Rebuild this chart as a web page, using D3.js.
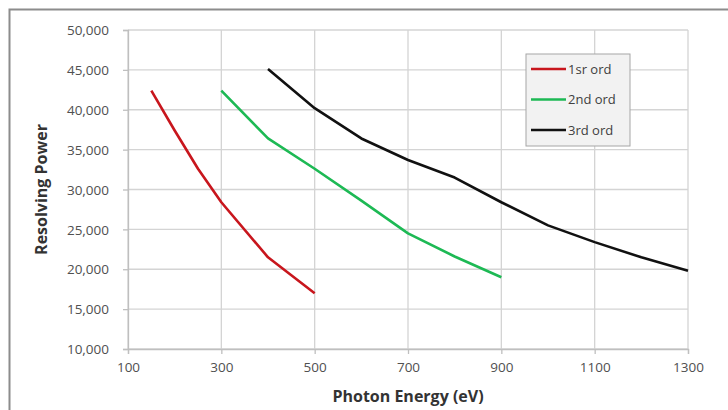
<!DOCTYPE html>
<html>
<head>
<meta charset="utf-8">
<script src="https://cdn.jsdelivr.net/npm/d3@7"></script>
<style>
  body { margin: 0; background: #fff; }
  svg { display: block; }
</style>
</head>
<body>
<svg id="canvas"></svg>
<script>
// values
const seriesNames = ["1sr ord", "2nd ord", "3rd ord"];
const seriesColors = ["#c8161d", "#1db954", "#111111"];

const energy1 = [150, 200, 250, 300, 400, 500];
const power1 = [42400, 37400, 32600, 28400, 21500, 17000];

const energy2 = [300, 400, 500, 600, 700, 800, 900];
const power2 = [42400, 36400, 32600, 28600, 24500, 21600, 19000];

const energy3 = [400, 500, 600, 700, 800, 900, 1000, 1100, 1200, 1300];
const power3 = [45100, 40200, 36400, 33700, 31500, 28400, 25500, 23400, 21500, 19800];

const xTicks = [100, 300, 500, 700, 900, 1100, 1300];
const yTicks = [10000, 15000, 20000, 25000, 30000, 35000, 40000, 45000, 50000];

function getChartConfig() {
  let canvasWidth = 728,
    canvasHeight = 410;
  let margin = { top: 30, right: 40, bottom: 61, left: 128 };
  let width = canvasWidth - margin.left - margin.right;
  let height = canvasHeight - margin.top - margin.bottom;

  let svg = d3.select("#canvas");
  svg.attr("width", canvasWidth).attr("height", canvasHeight);

  return { canvasWidth, canvasHeight, margin, width, height, svg };
}

function getChartScales(config) {
  let { width, height } = config;
  let xScale = d3.scaleLinear().domain([100, 1300]).range([0, width]);
  let yScale = d3.scaleLinear().domain([10000, 50000]).range([height, 0]);
  let cScale = d3.scaleOrdinal().domain(seriesNames).range(seriesColors);
  return { xScale, yScale, cScale };
}

function drawFrame(config) {
  let { svg, canvasWidth, canvasHeight } = config;
  svg
    .append("rect")
    .attr("x", 9.5)
    .attr("y", 9.5)
    .attr("width", canvasWidth)
    .attr("height", canvasHeight)
    .attr("fill", "#fff")
    .attr("stroke", "#8c8c8c")
    .attr("stroke-width", 2);
}

function drawAxes(scales, config) {
  let { xScale, yScale } = scales;
  let { svg, margin, width, height } = config;

  let g = svg.append("g").attr("transform", `translate(${margin.left},${margin.top})`);

  // grid
  g.append("g")
    .selectAll("line")
    .data(yTicks)
    .join("line")
    .attr("x1", 0)
    .attr("x2", width)
    .attr("y1", (d) => yScale(d))
    .attr("y2", (d) => yScale(d))
    .attr("stroke", "#d4d4d4")
    .attr("stroke-width", 1.3);

  g.append("g")
    .selectAll("line")
    .data(xTicks)
    .join("line")
    .attr("x1", (d) => xScale(d))
    .attr("x2", (d) => xScale(d))
    .attr("y1", 0)
    .attr("y2", height)
    .attr("stroke", "#d4d4d4")
    .attr("stroke-width", 1.3);

  let axisX = d3.axisBottom(xScale).tickValues(xTicks).tickSize(5).tickPadding(8).tickFormat(d3.format("d"));
  let axisY = d3.axisLeft(yScale).tickValues(yTicks).tickSize(5).tickPadding(14).tickFormat(d3.format(","));

  let gx = g.append("g").attr("transform", `translate(0,${height})`).call(axisX);
  let gy = g.append("g").call(axisY);

  [gx, gy].forEach((a) => {
    a.select(".domain").attr("stroke", "#bfbfbf").attr("stroke-width", 1.3);
    a.selectAll(".tick line").attr("stroke", "#bfbfbf").attr("stroke-width", 1.3);
    a.selectAll("text")
      .attr("fill", "#505050")
      .style("font-family", "'Open Sans', sans-serif")
      .style("font-size", "13.5px");
  });
  gy.selectAll("text").attr("dy", "0.35em");

  svg
    .append("text")
    .attr("x", margin.left + width / 2)
    .attr("y", 402)
    .attr("text-anchor", "middle")
    .attr("fill", "#333")
    .style("font-family", "'Open Sans', sans-serif")
    .style("font-weight", "bold")
    .style("font-size", "16px")
    .text("Photon Energy (eV)");

  svg
    .append("text")
    .attr("transform", `translate(47,${margin.top + height / 2}) rotate(-90)`)
    .attr("text-anchor", "middle")
    .attr("fill", "#333")
    .style("font-family", "'Open Sans', sans-serif")
    .style("font-weight", "bold")
    .style("font-size", "16px")
    .text("Resolving Power");
}

function drawChart(scales, config) {
  let { xScale, yScale, cScale } = scales;
  let { svg, margin } = config;

  let series = [
    { name: seriesNames[0], xs: energy1, ys: power1 },
    { name: seriesNames[1], xs: energy2, ys: power2 },
    { name: seriesNames[2], xs: energy3, ys: power3 },
  ];

  const lineGen = d3
    .line()
    .x((d) => xScale(d[0]))
    .y((d) => yScale(d[1]));

  let g = svg.append("g").attr("transform", `translate(${margin.left},${margin.top})`);

  series.forEach((s) => {
    g.append("path")
      .datum(d3.zip(s.xs, s.ys))
      .attr("fill", "none")
      .attr("stroke", cScale(s.name))
      .attr("stroke-width", 2.6)
      .attr("stroke-linejoin", "round")
      .attr("d", lineGen);
  });
}

function drawLegend(scales, config) {
  let { cScale } = scales;
  let { svg } = config;

  let legendarea = svg.append("g").attr("transform", "translate(526,54)");

  legendarea
    .append("rect")
    .attr("width", 104)
    .attr("height", 92)
    .attr("fill", "#f2f2f2")
    .attr("stroke", "#a6a6a6")
    .attr("stroke-width", 1);

  let legend = legendarea
    .selectAll(".legend")
    .data(cScale.domain())
    .join("g")
    .attr("class", "legend")
    .attr("transform", (d, i) => `translate(0,${15 + i * 30.5})`);

  legend
    .append("line")
    .attr("x1", 5)
    .attr("x2", 40)
    .attr("stroke", (d) => cScale(d))
    .attr("stroke-width", 2.6);

  legend
    .append("text")
    .attr("x", 42)
    .attr("dy", "0.35em")
    .attr("fill", "#404040")
    .style("font-family", "'Open Sans', sans-serif")
    .style("font-size", "13px")
    .text((d) => d);
}

let config = getChartConfig();
let scales = getChartScales(config);
drawFrame(config);
drawAxes(scales, config);
drawChart(scales, config);
drawLegend(scales, config);
</script>
</body>
</html>
